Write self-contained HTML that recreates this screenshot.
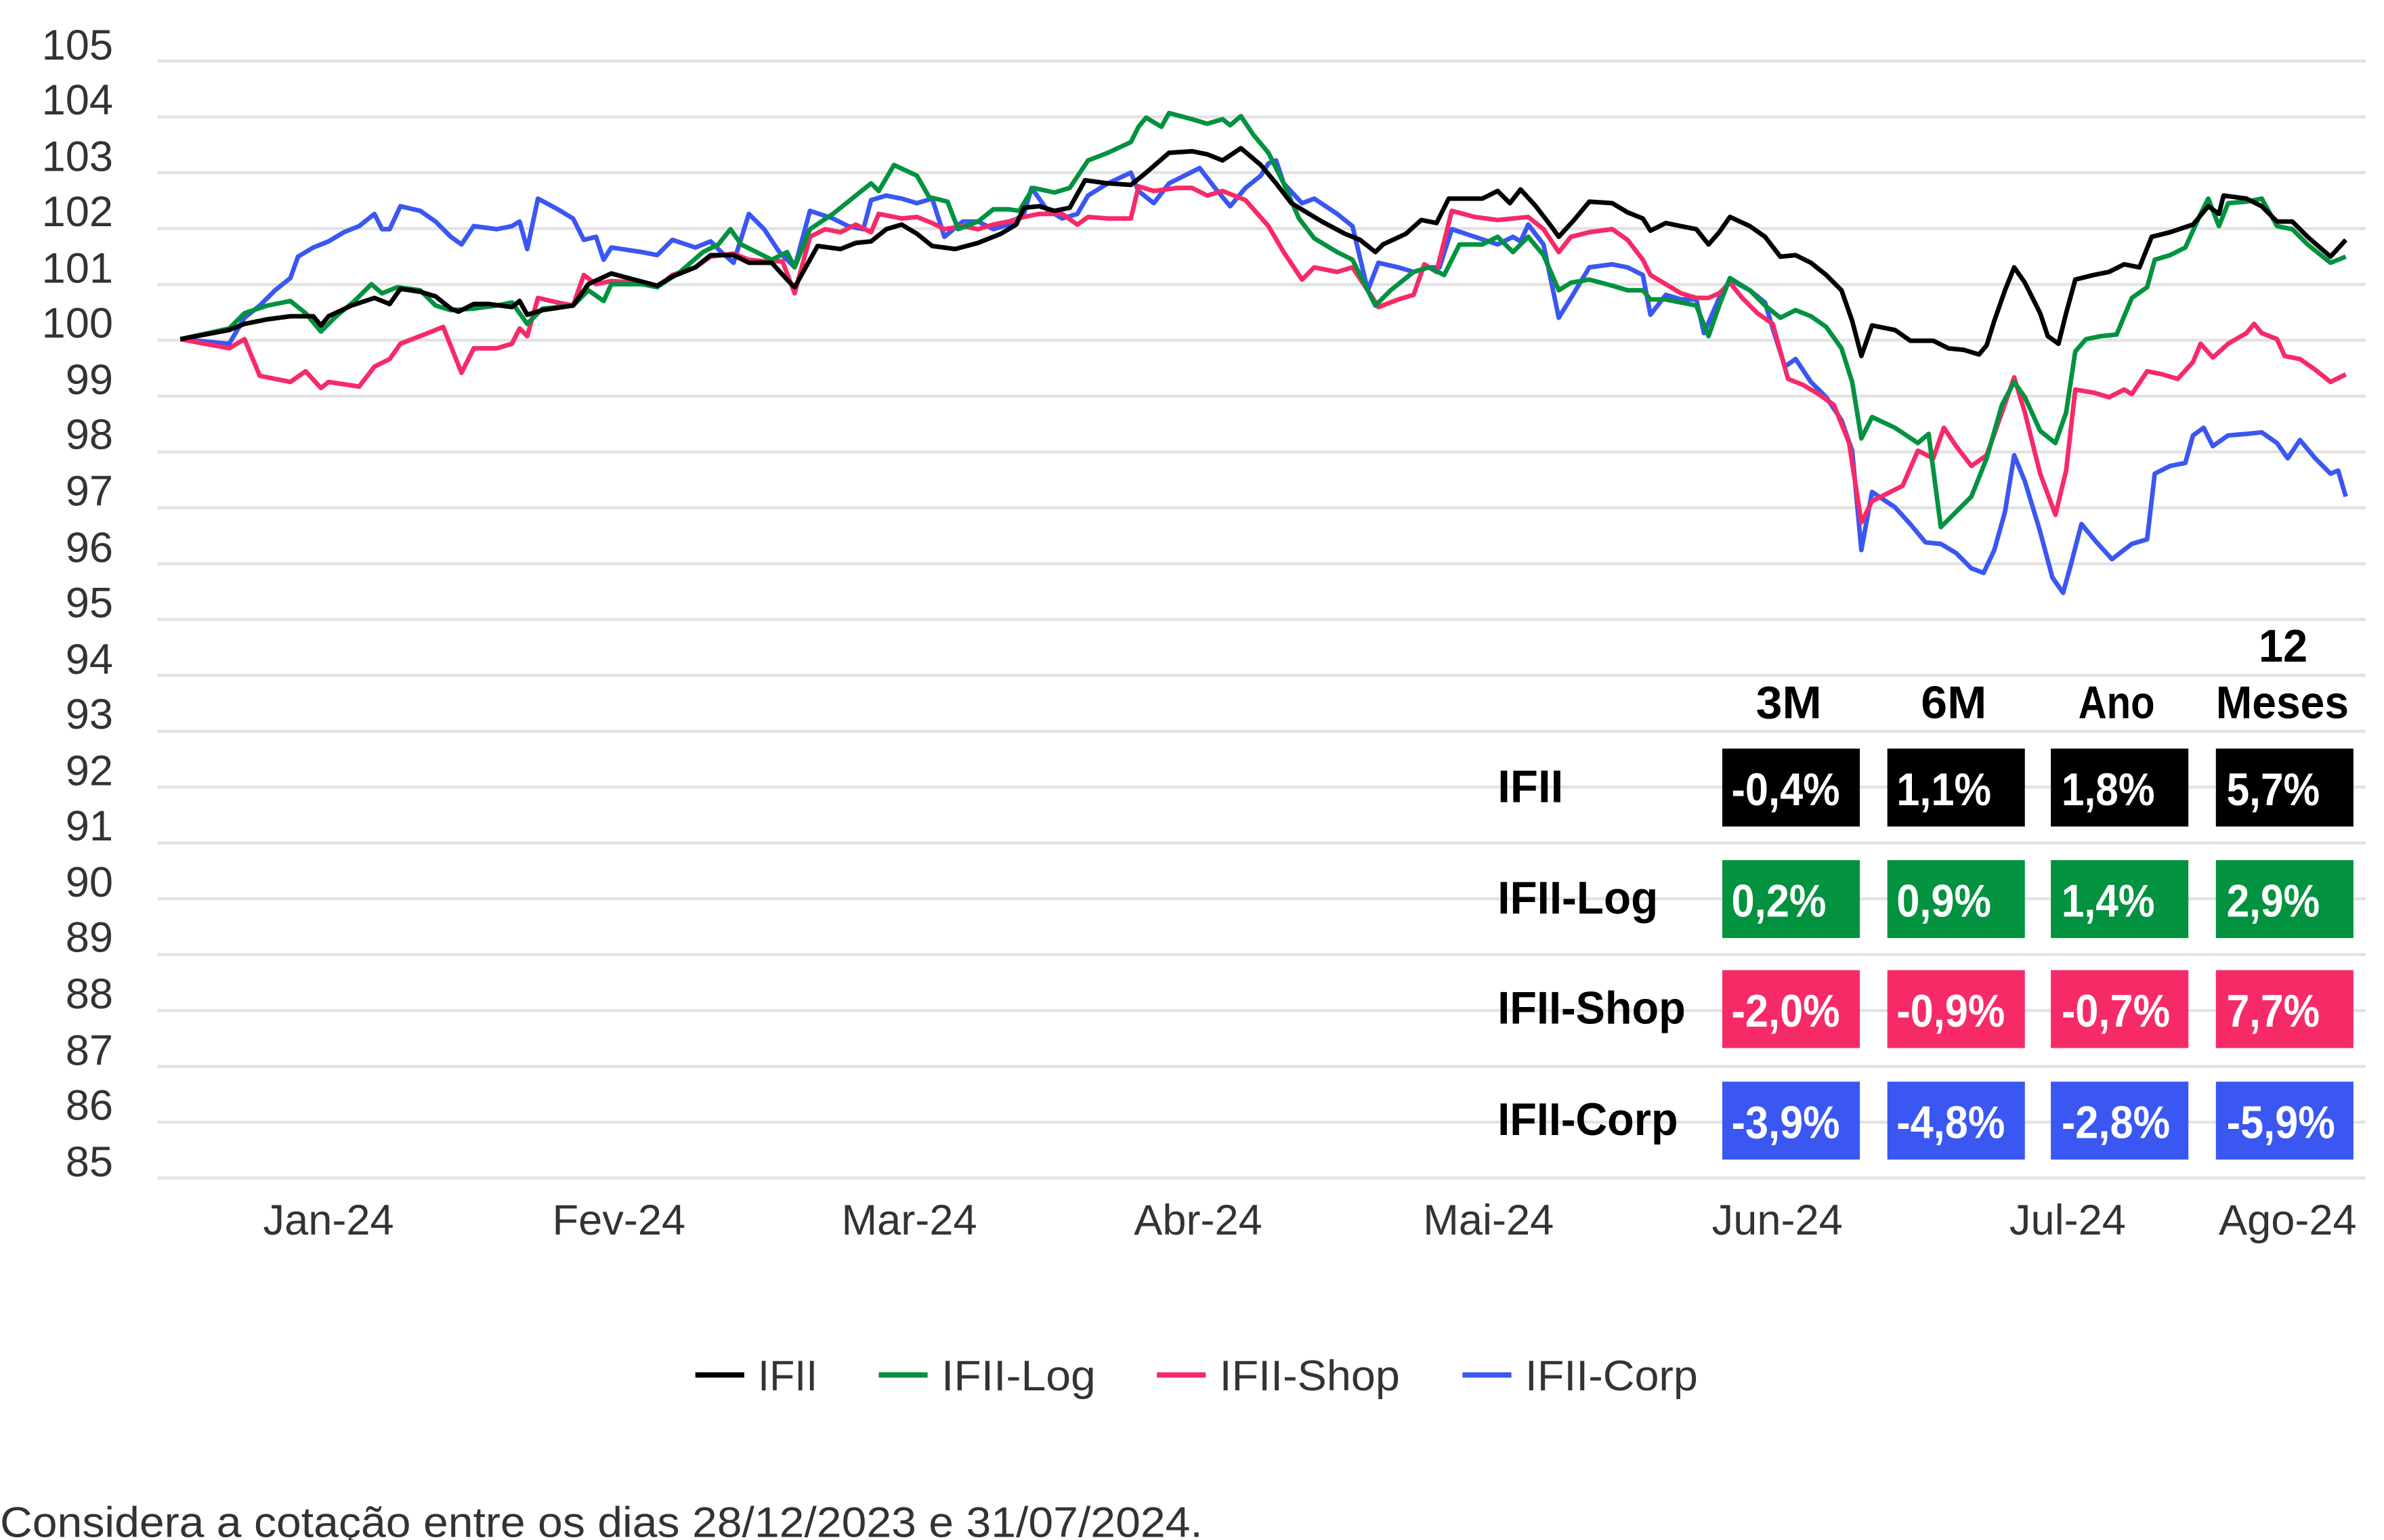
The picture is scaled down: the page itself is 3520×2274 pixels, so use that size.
<!DOCTYPE html>
<html><head><meta charset="utf-8"><style>
html,body{margin:0;padding:0;background:#fff;}
svg{display:block;}
.t{font-family:"Liberation Sans",sans-serif;fill:#333;font-size:27px;}
.b{font-family:"Liberation Sans",sans-serif;font-weight:bold;font-size:30px;}
</style></head><body>
<svg width="3520" height="2274" viewBox="0 0 1560 1008" preserveAspectRatio="none" xmlns="http://www.w3.org/2000/svg">
<g stroke="#e3e3e3" stroke-width="2">
<line x1="103" x2="1548" y1="40" y2="40"/><line x1="103" x2="1548" y1="76.5" y2="76.5"/><line x1="103" x2="1548" y1="113" y2="113"/><line x1="103" x2="1548" y1="149.6" y2="149.6"/><line x1="103" x2="1548" y1="186.2" y2="186.2"/><line x1="103" x2="1548" y1="222.7" y2="222.7"/><line x1="103" x2="1548" y1="259.3" y2="259.3"/><line x1="103" x2="1548" y1="295.8" y2="295.8"/><line x1="103" x2="1548" y1="332.4" y2="332.4"/><line x1="103" x2="1548" y1="369" y2="369"/><line x1="103" x2="1548" y1="405.5" y2="405.5"/><line x1="103" x2="1548" y1="442" y2="442"/><line x1="103" x2="1548" y1="478.6" y2="478.6"/><line x1="103" x2="1548" y1="515.2" y2="515.2"/><line x1="103" x2="1548" y1="551.7" y2="551.7"/><line x1="103" x2="1548" y1="588.3" y2="588.3"/><line x1="103" x2="1548" y1="624.8" y2="624.8"/><line x1="103" x2="1548" y1="661.4" y2="661.4"/><line x1="103" x2="1548" y1="698" y2="698"/><line x1="103" x2="1548" y1="734.5" y2="734.5"/><line x1="103" x2="1548" y1="771" y2="771"/>
</g>
<g class="t" text-anchor="end" style="font-size:28px">
<text x="74" y="39">105</text><text x="74" y="75">104</text><text x="74" y="112">103</text><text x="74" y="148">102</text><text x="74" y="185">101</text><text x="74" y="221">100</text><text x="74" y="258">99</text><text x="74" y="294">98</text><text x="74" y="331">97</text><text x="74" y="368">96</text><text x="74" y="404">95</text><text x="74" y="441">94</text><text x="74" y="477">93</text><text x="74" y="514">92</text><text x="74" y="550">91</text><text x="74" y="587">90</text><text x="74" y="623">89</text><text x="74" y="660">88</text><text x="74" y="697">87</text><text x="74" y="733">86</text><text x="74" y="770">85</text>
</g>
<g class="t" text-anchor="middle" style="font-size:28px">
<text x="215" y="808">Jan-24</text><text x="405" y="808">Fev-24</text><text x="595" y="808">Mar-24</text><text x="784" y="808">Abr-24</text><text x="974" y="808">Mai-24</text><text x="1163" y="808">Jun-24</text><text x="1353" y="808">Jul-24</text><text x="1497" y="808">Ago-24</text>
</g>
<g fill="none" stroke-width="3" stroke-linejoin="round">
<polyline stroke="#3a57f2" points="118,222 150,225 160,208 170,200 180,190 190,182 195,168 205,162 215,158 225,152 235,148 245,140 250,150 255,150 262,135 275,138 285,145 295,155 302,160 310,148 325,150 335,148 340,145 345,163 352,130 365,137 375,143 382,157 390,155 395,170 400,162 420,165 430,167 440,157 455,162 465,158 472,165 480,172 490,140 500,150 510,165 520,175 530,138 545,143 555,148 565,150 570,131 580,128 590,130 600,133 610,130 618,155 630,145 640,145 650,150 660,147 670,140 675,123 685,137 695,143 705,140 712,128 725,120 740,113 745,125 755,133 765,120 775,115 785,110 795,123 805,135 815,123 825,115 830,107 835,105 840,120 852,133 860,130 875,140 885,148 895,190 902,172 915,175 925,178 935,175 942,175 950,150 965,155 980,160 990,155 995,158 1000,147 1010,160 1020,208 1028,195 1040,175 1055,173 1065,175 1075,180 1080,206 1090,193 1100,196 1110,196 1115,218 1125,195 1132,183 1145,190 1155,198 1160,215 1168,240 1175,235 1185,250 1195,260 1205,275 1212,295 1218,360 1225,322 1240,332 1250,343 1260,355 1270,356 1280,362 1290,372 1298,375 1305,360 1312,335 1318,298 1325,315 1335,348 1343,378 1350,388 1355,370 1362,343 1372,355 1382,366 1395,356 1405,353 1410,310 1420,305 1430,303 1435,285 1442,280 1448,292 1458,285 1470,284 1480,283 1490,290 1497,300 1505,288 1515,300 1525,310 1530,308 1535,325"/>
<polyline stroke="#f72a68" points="118,222 150,228 160,222 170,246 180,248 190,250 200,243 210,254 215,250 235,253 245,240 255,235 262,225 280,218 290,214 302,244 310,228 325,228 335,225 340,215 345,220 352,195 365,198 375,200 382,180 390,186 400,184 420,185 430,188 440,180 455,175 465,168 480,166 490,170 500,171 512,171 520,192 530,155 540,150 550,152 560,147 570,152 575,140 590,143 600,142 610,146 618,150 630,148 640,150 650,147 660,145 670,142 680,140 695,140 705,147 712,142 725,143 740,143 745,122 755,125 770,123 780,123 790,128 800,125 815,131 830,148 840,165 852,183 860,175 875,178 885,175 895,190 902,201 915,196 925,193 932,173 940,178 950,138 965,142 980,144 990,143 1000,142 1010,150 1020,165 1028,155 1040,152 1055,150 1065,157 1075,170 1080,180 1090,186 1100,192 1110,195 1118,195 1125,192 1132,185 1140,195 1150,205 1160,212 1170,248 1180,252 1190,258 1200,265 1210,290 1218,342 1225,328 1235,323 1245,318 1255,295 1265,300 1272,280 1280,292 1290,305 1300,298 1310,270 1318,247 1325,270 1335,310 1345,337 1352,308 1358,255 1370,257 1380,260 1390,255 1395,258 1405,243 1415,245 1425,248 1435,237 1440,225 1448,234 1458,225 1470,218 1475,212 1480,218 1490,222 1495,233 1505,235 1515,242 1525,250 1535,245"/>
<polyline stroke="#03923f" points="118,222 150,215 160,205 175,200 190,197 200,205 210,217 220,207 232,197 243,186 250,192 260,188 275,190 285,200 295,203 310,202 325,200 335,198 345,212 355,202 375,200 385,190 395,197 400,186 420,186 430,188 445,178 460,165 470,160 478,150 485,160 495,165 505,170 515,165 520,175 530,150 545,140 560,128 570,120 575,125 585,108 600,115 608,129 620,132 627,150 640,145 650,137 660,137 667,138 676,123 690,126 700,123 712,105 725,100 740,93 745,83 750,77 760,83 765,74 780,78 790,81 800,78 805,82 812,76 820,88 830,100 840,120 850,143 860,156 875,165 885,170 900,200 910,190 925,178 935,175 945,180 955,160 970,160 980,155 990,165 1000,155 1010,167 1020,190 1028,185 1040,183 1055,187 1065,190 1075,190 1080,196 1090,196 1100,198 1110,200 1118,220 1125,200 1132,182 1145,190 1155,200 1165,208 1175,203 1185,207 1195,214 1205,228 1212,250 1218,287 1225,273 1240,280 1255,290 1262,284 1270,345 1280,335 1290,325 1300,300 1310,265 1318,250 1325,260 1335,282 1345,290 1352,270 1358,230 1365,222 1375,220 1385,219 1395,195 1405,188 1410,170 1420,167 1430,162 1440,140 1445,130 1452,148 1458,133 1470,132 1480,130 1490,148 1500,150 1510,160 1525,172 1535,168"/>
<polyline stroke="#000" points="118,222 150,216 160,212 175,209 190,207 205,207 210,213 215,207 230,200 245,195 255,199 262,189 275,191 285,194 295,202 300,204 310,199 320,199 335,201 340,197 345,206 355,203 375,200 385,186 400,179 415,183 430,187 440,181 455,175 465,167 480,167 490,172 505,172 515,183 520,188 535,161 550,163 560,159 570,158 580,150 590,147 600,153 610,161 625,163 640,159 655,153 665,147 670,136 680,135 690,138 700,136 710,118 725,120 740,121 750,113 765,100 780,99 790,101 800,105 812,97 825,108 835,120 845,133 855,139 865,145 880,153 890,157 900,165 905,160 920,153 930,144 940,146 948,130 960,130 970,130 980,125 988,133 995,124 1005,135 1015,148 1020,155 1030,144 1040,132 1055,133 1065,139 1075,143 1080,151 1090,146 1100,148 1110,150 1118,160 1125,152 1132,142 1145,148 1155,155 1165,168 1175,167 1185,172 1195,180 1205,190 1212,210 1218,233 1225,213 1240,216 1250,223 1265,223 1275,228 1285,229 1295,232 1300,226 1305,210 1312,190 1318,175 1325,185 1335,205 1340,220 1347,225 1352,205 1358,183 1370,180 1380,178 1390,173 1400,175 1408,155 1420,152 1435,147 1445,135 1452,140 1455,128 1470,130 1480,135 1490,145 1500,145 1510,155 1525,168 1535,157"/>
</g>
<g class="b" fill="#000" lengthAdjust="spacingAndGlyphs">
<text x="1149" y="470" textLength="43" lengthAdjust="spacingAndGlyphs">3M</text><text x="1257" y="470" textLength="43" lengthAdjust="spacingAndGlyphs">6M</text><text x="1360" y="470" textLength="50" lengthAdjust="spacingAndGlyphs">Ano</text><text x="1478" y="433" textLength="32" lengthAdjust="spacingAndGlyphs">12</text><text x="1450" y="470" textLength="87" lengthAdjust="spacingAndGlyphs">Meses</text>
<text x="980" y="525" textLength="43" lengthAdjust="spacingAndGlyphs">IFII</text><text x="980" y="598" textLength="105" lengthAdjust="spacingAndGlyphs">IFII-Log</text><text x="980" y="670" textLength="123" lengthAdjust="spacingAndGlyphs">IFII-Shop</text><text x="980" y="743" textLength="118" lengthAdjust="spacingAndGlyphs">IFII-Corp</text>
</g>
<g>
<rect x="1127" y="490" width="90" height="51" fill="#000"/><rect x="1235" y="490" width="90" height="51" fill="#000"/><rect x="1342" y="490" width="90" height="51" fill="#000"/><rect x="1450" y="490" width="90" height="51" fill="#000"/>
<rect x="1127" y="563" width="90" height="51" fill="#03923f"/><rect x="1235" y="563" width="90" height="51" fill="#03923f"/><rect x="1342" y="563" width="90" height="51" fill="#03923f"/><rect x="1450" y="563" width="90" height="51" fill="#03923f"/>
<rect x="1127" y="635" width="90" height="51" fill="#f72a68"/><rect x="1235" y="635" width="90" height="51" fill="#f72a68"/><rect x="1342" y="635" width="90" height="51" fill="#f72a68"/><rect x="1450" y="635" width="90" height="51" fill="#f72a68"/>
<rect x="1127" y="708" width="90" height="51" fill="#3a57f2"/><rect x="1235" y="708" width="90" height="51" fill="#3a57f2"/><rect x="1342" y="708" width="90" height="51" fill="#3a57f2"/><rect x="1450" y="708" width="90" height="51" fill="#3a57f2"/>
</g>
<g class="b" fill="#fff">
<text x="1133" y="527" textLength="71" lengthAdjust="spacingAndGlyphs">-0,4%</text><text x="1241" y="527" textLength="62" lengthAdjust="spacingAndGlyphs">1,1%</text><text x="1349" y="527" textLength="61" lengthAdjust="spacingAndGlyphs">1,8%</text><text x="1457" y="527" textLength="61" lengthAdjust="spacingAndGlyphs">5,7%</text>
<text x="1133" y="600" textLength="62" lengthAdjust="spacingAndGlyphs">0,2%</text><text x="1241" y="600" textLength="62" lengthAdjust="spacingAndGlyphs">0,9%</text><text x="1349" y="600" textLength="61" lengthAdjust="spacingAndGlyphs">1,4%</text><text x="1457" y="600" textLength="61" lengthAdjust="spacingAndGlyphs">2,9%</text>
<text x="1133" y="672" textLength="71" lengthAdjust="spacingAndGlyphs">-2,0%</text><text x="1241" y="672" textLength="71" lengthAdjust="spacingAndGlyphs">-0,9%</text><text x="1349" y="672" textLength="71" lengthAdjust="spacingAndGlyphs">-0,7%</text><text x="1457" y="672" textLength="61" lengthAdjust="spacingAndGlyphs">7,7%</text>
<text x="1133" y="745" textLength="71" lengthAdjust="spacingAndGlyphs">-3,9%</text><text x="1241" y="745" textLength="71" lengthAdjust="spacingAndGlyphs">-4,8%</text><text x="1349" y="745" textLength="71" lengthAdjust="spacingAndGlyphs">-2,8%</text><text x="1457" y="745" textLength="71" lengthAdjust="spacingAndGlyphs">-5,9%</text>
</g>
<g stroke-width="3.5">
<line x1="455" x2="487" y1="900" y2="900" stroke="#000"/><line x1="575" x2="607" y1="900" y2="900" stroke="#03923f"/><line x1="757" x2="789" y1="900" y2="900" stroke="#f72a68"/><line x1="957" x2="989" y1="900" y2="900" stroke="#3a57f2"/>
</g>
<g class="t" style="font-size:28px">
<text x="496" y="910" textLength="39" lengthAdjust="spacingAndGlyphs">IFII</text><text x="616" y="910" textLength="101" lengthAdjust="spacingAndGlyphs">IFII-Log</text><text x="798" y="910" textLength="118" lengthAdjust="spacingAndGlyphs">IFII-Shop</text><text x="998" y="910" textLength="113" lengthAdjust="spacingAndGlyphs">IFII-Corp</text>
<text x="0" y="1006" textLength="787" lengthAdjust="spacingAndGlyphs">Considera a cotação entre os dias 28/12/2023 e 31/07/2024.</text>
</g>
</svg>
</body></html>
